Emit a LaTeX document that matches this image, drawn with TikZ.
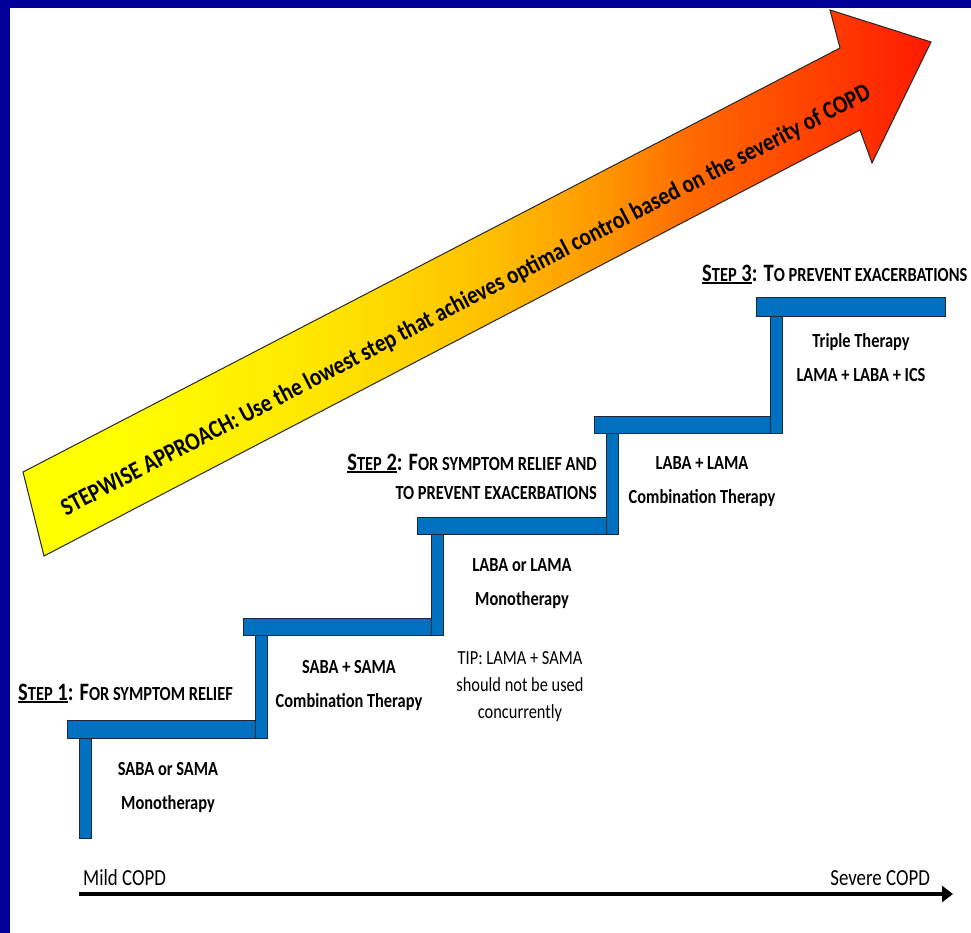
\documentclass[tikz,border=0pt]{standalone}
\usepackage{fontspec}
\setmainfont{Carlito}[FakeStretch=0.82]
\newfontfamily\arrowfont{Carlito}[FakeStretch=0.85]
\usetikzlibrary{arrows.meta}

\definecolor{framenavy}{RGB}{0,0,153}
\definecolor{stairblue}{RGB}{0,112,192}
\definecolor{stairedge}{RGB}{30,40,60}

% yellow -> orange -> red, left to right
\pgfdeclarehorizontalshading{heatshade}{100bp}{%
  rgb(0bp)=(1,1,0); rgb(30bp)=(1,1,0); rgb(42bp)=(1,0.894,0);
  rgb(51bp)=(1,0.745,0); rgb(57bp)=(1,0.59,0); rgb(62bp)=(1,0.41,0);
  rgb(70bp)=(1,0.22,0); rgb(75bp)=(1,0.1,0); rgb(100bp)=(1,0.1,0)}

% fake small capitals and a heavier underline
\newcommand\lowcaps[1]{{\fontsize{20}{30}\selectfont #1}}
\newcommand\stepul[1]{\setbox0\hbox{#1}\rlap{\rule[-2.8pt]{\wd0}{1.4pt}}\box0}

\tikzset{
  stair/.style={fill=stairblue, draw=stairedge, line width=0.8pt},
  drug/.style={font=\bfseries\fontsize{20}{34}\selectfont, align=center, anchor=base, inner sep=0pt},
  tipnote/.style={font=\fontsize{20}{27}\selectfont, align=center, anchor=base, inner sep=0pt},
  steplabel/.style={font=\bfseries\fontsize{25}{30}\selectfont, inner sep=0pt},
  axislabel/.style={font=\fontsize{23}{26}\selectfont, inner sep=0pt},
}

\begin{document}
\begin{tikzpicture}[x=1pt, y=-1pt]
\useasboundingbox (0,0) rectangle (971,933);
\fill[white] (0,0) rectangle (971,933);

% frame along the top and left edges
\fill[framenavy] (0,0) rectangle (971,8);
\fill[framenavy] (0,0) rectangle (10,933);

% big rising arrow
\shadedraw[shading=heatshade, draw=black!85, line width=1pt, line join=miter]
  (23,472) -- (840,48) -- (830,10) -- (931,42) -- (872,163) -- (860,130) -- (44,556) -- cycle;
\node[rotate=27.43, inner sep=0pt, font=\arrowfont\bfseries\fontsize{25}{30}\selectfont] (motto) at (466,301)
  {STEPWISE APPROACH: Use the lowest step that achieves optimal control based on the severity of COPD};

% staircase: treads
\path[stair] (67,720) rectangle (267,738);
\path[stair] (243,618) rectangle (443,635);
\path[stair] (417,517) rectangle (618,534);
\path[stair] (594,416) rectangle (782,433);
\path[stair] (756,297) rectangle (945,316);
% staircase: risers
\path[stair] (79,738) rectangle (91,838);
\path[stair] (255,635) rectangle (267,738);
\path[stair] (431,534) rectangle (443,635);
\path[stair] (606,433) rectangle (618,534);
\path[stair] (770,316) rectangle (782,433);

% step headings
\node[steplabel, anchor=base west] (step1) at (18,700)
  {\stepul{S\lowcaps{TEP} 1}: F\lowcaps{OR SYMPTOM RELIEF}};
\node[steplabel, anchor=base east, align=right] (step2) at (597,499)
  {\stepul{S\lowcaps{TEP} 2}: F\lowcaps{OR SYMPTOM RELIEF AND}\\[-1pt]\lowcaps{TO PREVENT EXACERBATIONS}};
\node[steplabel, anchor=base west] (step3) at (702,281)
  {\stepul{S\lowcaps{TEP} 3}: T\lowcaps{O PREVENT EXACERBATIONS}};

% therapies on each step (anchored at the last line's baseline)
\node[drug] (mono1) at (168,809) {SABA or SAMA\\Monotherapy};
\node[drug] (combo1) at (349,707) {SABA + SAMA\\Combination Therapy};
\node[drug] (mono2) at (522,605) {LABA or LAMA\\Monotherapy};
\node[tipnote] (tip) at (520,718) {TIP: LAMA + SAMA\\should not be used\\concurrently};
\node[drug] (combo2) at (702,503) {LABA + LAMA\\Combination Therapy};
\node[drug] (triple) at (861,381) {Triple Therapy\\LAMA + LABA + ICS};

% severity axis
\node[axislabel, anchor=base west] (mild) at (83,885) {Mild COPD};
\node[axislabel, anchor=base east] (severe) at (930,885) {Severe COPD};
\coordinate (axisstart) at (79,894);
\coordinate (axisend) at (953,894);
\draw[line width=4.5pt, -{Triangle[length=11pt,width=16pt]}] (axisstart) -- (axisend);
\end{tikzpicture}
\end{document}
